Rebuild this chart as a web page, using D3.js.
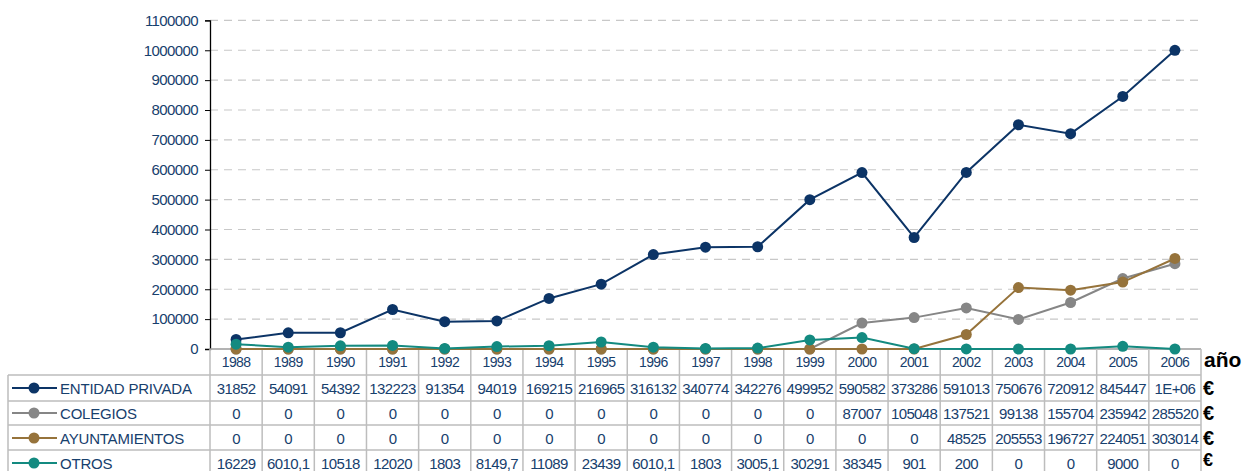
<!DOCTYPE html>
<html>
<head>
<meta charset="utf-8">
<script src="https://cdn.jsdelivr.net/npm/d3@7"></script>
<style>
  body { margin: 0; background: #fff; }
  svg { display: block; font-family: "Liberation Sans", Arial, sans-serif; }
  .tick text { fill: #17406d; font-size: 15px; letter-spacing: -0.6px; }
  .cell { fill: #17406d; font-size: 15px; letter-spacing: -0.6px; }
</style>
</head>
<body>
<div id="chart"></div>
<script>
/* data */
var years = ['1988','1989','1990','1991','1992','1993','1994','1995','1996','1997',
             '1998','1999','2000','2001','2002','2003','2004','2005','2006'];
var entidadPrivada = [31852, 54091, 54392, 132223, 91354, 94019, 169215, 216965, 316132, 340774,
                      342276, 499952, 590582, 373286, 591013, 750676, 720912, 845447, 1000000];
var colegios = [0, 0, 0, 0, 0, 0, 0, 0, 0, 0,
                0, 0, 87007, 105048, 137521, 99138, 155704, 235942, 285520];
var ayuntamientos = [0, 0, 0, 0, 0, 0, 0, 0, 0, 0,
                     0, 0, 0, 0, 48525, 205553, 196727, 224051, 303014];
var otros = [16229, 6010.1, 10518, 12020, 1803, 8149.7, 11089, 23439, 6010.1, 1803,
             3005.1, 30291, 38345, 901, 200, 0, 0, 9000, 0];
var yTicks = [0, 100000, 200000, 300000, 400000, 500000, 600000,
              700000, 800000, 900000, 1000000, 1100000];

var series = [
  { name: 'ENTIDAD PRIVADA', values: entidadPrivada, color: '#0c3466' },
  { name: 'COLEGIOS',        values: colegios,       color: '#868686' },
  { name: 'AYUNTAMIENTOS',   values: ayuntamientos,  color: '#96733b' },
  { name: 'OTROS',           values: otros,          color: '#138a80' }
];

var W = 1259, H = 471;
var svg = d3.select('#chart').append('svg')
  .attr('width', W).attr('height', H);

var x = d3.scaleBand().domain(years).range([210, 1201]).padding(0);
var y = d3.scaleLinear().domain([0, 1100000]).range([349, 20.4]);

/* dashed grid */
svg.selectAll('.grid')
  .data(yTicks.filter(function (d) { return d > 0; }))
  .join('line')
  .attr('x1', 210).attr('x2', 1201)
  .attr('y1', function (d) { return y(d); })
  .attr('y2', function (d) { return y(d); })
  .attr('stroke', '#c8c8c8')
  .attr('stroke-width', 1.2)
  .attr('stroke-dasharray', '8,6');

/* y axis */
var yAxis = svg.append('g')
  .attr('transform', 'translate(210,0)')
  .call(d3.axisLeft(y).tickValues(yTicks).tickSize(5).tickPadding(7)
    .tickFormat(function (d) { return String(d); }));
yAxis.select('.domain').attr('stroke', '#000').attr('stroke-width', 1.3);
yAxis.selectAll('.tick line').attr('stroke', '#000');

/* table geometry */
var tableLeft = 8, tableRight = 1201;
var rowLines = [349, 375, 401, 425, 450];
var rowCenters = [388, 413, 438, 463];
var gridColor = '#bdbdbd';

var table = svg.append('g');
/* horizontal lines */
table.append('line')
  .attr('x1', 210).attr('x2', tableRight)
  .attr('y1', 349).attr('y2', 349)
  .attr('stroke', '#9a9a9a').attr('stroke-width', 1.5);
rowLines.slice(1).forEach(function (ly) {
  table.append('line')
    .attr('x1', tableLeft).attr('x2', tableRight)
    .attr('y1', ly).attr('y2', ly)
    .attr('stroke', gridColor).attr('stroke-width', 1.5);
});
/* vertical lines */
table.append('line')
  .attr('x1', tableLeft).attr('x2', tableLeft)
  .attr('y1', 375).attr('y2', H)
  .attr('stroke', gridColor).attr('stroke-width', 1.5);
years.forEach(function (yr) {
  table.append('line')
    .attr('x1', x(yr)).attr('x2', x(yr))
    .attr('y1', 349).attr('y2', H)
    .attr('stroke', gridColor).attr('stroke-width', 1.5);
});
table.append('line')
  .attr('x1', tableRight).attr('x2', tableRight)
  .attr('y1', 349).attr('y2', H)
  .attr('stroke', gridColor).attr('stroke-width', 1.5);

/* year labels */
table.selectAll('.year')
  .data(years)
  .join('text')
  .attr('class', 'cell')
  .attr('x', function (d) { return x(d) + x.bandwidth() / 2; })
  .attr('y', 362)
  .attr('text-anchor', 'middle')
  .attr('dominant-baseline', 'central')
  .style('font-size', '14px')
  .text(function (d) { return d; });

svg.append('text')
  .attr('x', 1204).attr('y', 367)
  .attr('font-size', 21).attr('font-weight', 'bold').attr('fill', '#000')
  .text('año');

function fmt(v) {
  if (v >= 1000000) return '1E+06';
  return String(v).replace('.', ',');
}

var cx = function (i) { return x(years[i]) + x.bandwidth() / 2; };

/* lines and markers, later series drawn on top */
var line = d3.line()
  .x(function (d, i) { return cx(i); })
  .y(function (d) { return y(d); });

series.forEach(function (s) {
  var g = svg.append('g');
  g.append('path')
    .attr('d', line(s.values))
    .attr('fill', 'none')
    .attr('stroke', s.color)
    .attr('stroke-width', 2);
  g.selectAll('circle')
    .data(s.values)
    .join('circle')
    .attr('cx', function (d, i) { return cx(i); })
    .attr('cy', function (d) { return y(d); })
    .attr('r', 5.5)
    .attr('fill', s.color);
});

/* table rows */
series.forEach(function (s, r) {
  var cy = rowCenters[r];
  var row = svg.append('g');
  row.append('line')
    .attr('x1', 12).attr('x2', 57)
    .attr('y1', cy).attr('y2', cy)
    .attr('stroke', s.color).attr('stroke-width', 2);
  row.append('circle')
    .attr('cx', 34).attr('cy', cy).attr('r', 5.5)
    .attr('fill', s.color);
  row.append('text')
    .attr('class', 'cell')
    .attr('x', 60).attr('y', cy)
    .attr('dominant-baseline', 'central')
    .style('letter-spacing', '-0.2px')
    .text(s.name);
  row.selectAll('.val')
    .data(s.values)
    .join('text')
    .attr('class', 'cell')
    .attr('x', function (d, i) { return cx(i); })
    .attr('y', cy)
    .attr('text-anchor', 'middle')
    .attr('dominant-baseline', 'central')
    .text(fmt);
  /* last row sits at the bottom edge; keep its euro sign inside */
  var last = r === series.length - 1;
  row.append('text')
    .attr('x', 1203).attr('y', last ? 466 : cy + 7)
    .attr('font-size', last ? 18 : 20).attr('font-weight', 'bold').attr('fill', '#000')
    .text('€');
});
</script>
</body>
</html>
